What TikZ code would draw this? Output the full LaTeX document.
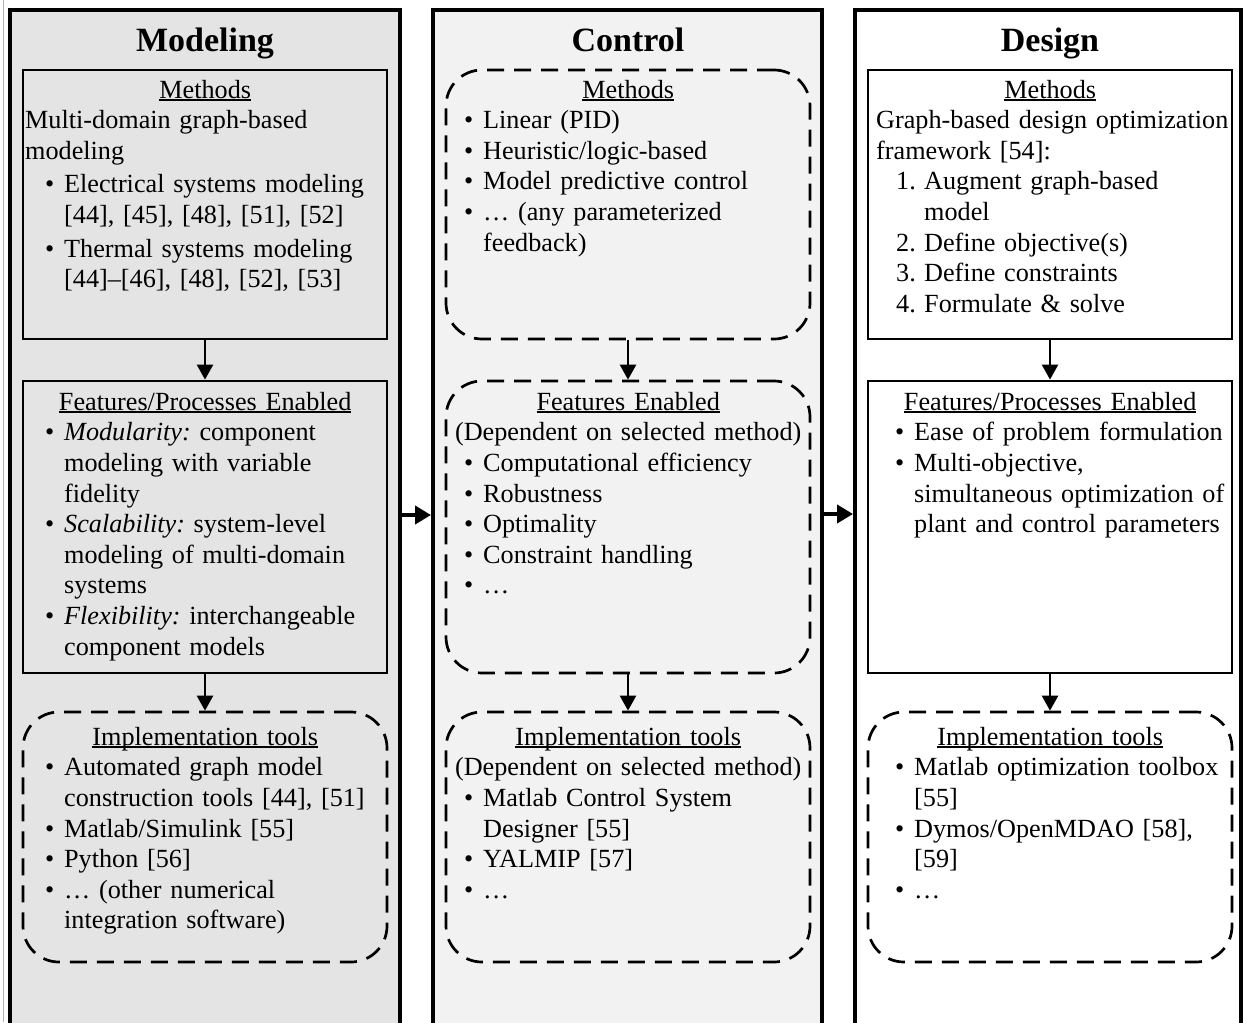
\documentclass[tikz,border=0pt]{standalone}
\usepackage{fontspec}
\setmainfont{Liberation Serif}
\usetikzlibrary{arrows.meta}
\definecolor{colL}{RGB}{228,228,228}
\definecolor{colM}{RGB}{242,242,242}
\frenchspacing
\newcommand\hdul[1]{\setbox0\hbox{#1}\rlap{\rule[-2.6pt]{\wd0}{1.4pt}}\box0}
\newcommand\hdline[2]{\noindent\makebox[#1]{\strut#2}\par}
\newcommand\bitem[2]{\par\leftskip=#1\relax\noindent\llap{\textbullet\hspace{10pt}}#2\par}
\newcommand\nitem[3]{\par\leftskip=#1\relax\noindent\llap{\makebox[28pt][l]{#2}}#3\par}
\tikzset{
  colbox/.style={draw=black, line width=4pt, anchor=north, inner sep=0, minimum height=1040pt},
  sbox/.style={draw=black, line width=2.8pt, inner sep=0, minimum width=364pt},
  dbox/.style={draw=black, line width=2.7pt, dash pattern=on 17pt off 10pt, rounded corners=36pt, inner sep=0, minimum width=364pt},
  txt/.style={anchor=north west, inner sep=0, text width=400pt, font=\fontsize{26.2}{30.6}\selectfont\frenchspacing},
  ttl/.style={anchor=base, inner sep=0, font=\fontsize{34}{40}\selectfont\bfseries},
  varrow/.style={-{Triangle[length=15pt,width=16pt]}, line width=2.5pt},
  harrow/.style={-{Triangle[length=16pt,width=18pt]}, line width=4.5pt}
}
\begin{document}
\begin{tikzpicture}[x=1pt,y=-1pt]
\useasboundingbox (0,0) rectangle (1244,1022);
\clip (0,0) rectangle (1244,1022);
\fill[white] (0,0) rectangle (1244,1022);
% columns
\draw[gray!60, line width=0.8pt] (3,0) -- (3,1022);
\node[colbox, fill=colL, minimum width=390pt] (colL) at (205,8) {};
\node[colbox, fill=colM, minimum width=389pt] (colM) at (627.5,8) {};
\node[colbox, fill=white, minimum width=386pt] (colD) at (1048,8) {};
% titles
\node[ttl] (tL) at (205,52) {Modeling};
\node[ttl] (tM) at (628,52) {Control};
\node[ttl] (tD) at (1050,52) {Design};
% boxes
\node[sbox, minimum height=269pt] (lm) at (205,204.5) {};
\node[sbox, minimum height=292pt] (lf) at (205,527) {};
\node[dbox, minimum height=250pt] (li) at (205,837) {};
\node[dbox, minimum height=269pt] (mm) at (628,204.5) {};
\node[dbox, minimum height=292pt] (mf) at (628,527) {};
\node[dbox, minimum height=250pt] (mi) at (628,837) {};
\node[sbox, minimum height=269pt] (dm) at (1050,204.5) {};
\node[sbox, minimum height=292pt] (df) at (1050,527) {};
\node[dbox, minimum height=250pt] (di) at (1050,837) {};
% texts - Modeling
\node[txt] (lmT) at (25,76.58) {\raggedright
\hdline{360pt}{\hdul{Methods}}
Multi-domain graph-based\newline modeling\par
\vskip3pt\bitem{39pt}{Electrical systems modeling\newline [44], [45], [48], [51], [52]}
\vskip3pt\bitem{39pt}{Thermal systems modeling\newline [44]–[46], [48], [52], [53]}};
\node[txt] (lfT) at (25,388.58) {\raggedright
\hdline{360pt}{\hdul{Features/Processes Enabled}}
\bitem{39pt}{\textit{Modularity:} component\newline modeling with variable\newline fidelity}
\bitem{39pt}{\textit{Scalability:} system-level\newline modeling of multi-domain\newline systems}
\bitem{39pt}{\textit{Flexibility:} interchangeable\newline component models}};
\node[txt] (liT) at (25,723.58) {\raggedright
\hdline{360pt}{\hdul{Implementation tools}}
\bitem{39pt}{Automated graph model\newline construction tools [44], [51]}
\bitem{39pt}{Matlab/Simulink [55]}
\bitem{39pt}{Python [56]}
\bitem{39pt}{… (other numerical\newline integration software)}};
% texts - Control
\node[txt] (mmT) at (448,76.58) {\raggedright
\hdline{360pt}{\hdul{Methods}}
\bitem{35pt}{Linear (PID)}
\bitem{35pt}{Heuristic/logic-based}
\bitem{35pt}{Model predictive control}
\bitem{35pt}{… (any parameterized\newline feedback)}};
\node[txt] (mfT) at (448,388.58) {\raggedright
\hdline{360pt}{\hdul{Features Enabled}}
\hdline{360pt}{(Dependent on selected method)}
\bitem{35pt}{Computational efficiency}
\bitem{35pt}{Robustness}
\bitem{35pt}{Optimality}
\bitem{35pt}{Constraint handling}
\bitem{35pt}{…}};
\node[txt] (miT) at (448,723.58) {\raggedright
\hdline{360pt}{\hdul{Implementation tools}}
\hdline{360pt}{(Dependent on selected method)}
\bitem{35pt}{Matlab Control System\newline Designer [55]}
\bitem{35pt}{YALMIP [57]}
\bitem{35pt}{…}};
% texts - Design
\node[txt] (dmT) at (876,76.58) {\raggedright
\hdline{348pt}{\hdul{Methods}}
Graph-based design optimization\newline framework [54]:\par
\nitem{48pt}{1.}{Augment graph-based\newline model}
\nitem{48pt}{2.}{Define objective(s)}
\nitem{48pt}{3.}{Define constraints}
\nitem{48pt}{4.}{Formulate \& solve}};
\node[txt] (dfT) at (876,388.58) {\raggedright
\hdline{348pt}{\hdul{Features/Processes Enabled}}
\bitem{38pt}{Ease of problem formulation}
\bitem{38pt}{Multi-objective,\newline simultaneous optimization of\newline plant and control parameters}};
\node[txt] (diT) at (876,723.58) {\raggedright
\hdline{348pt}{\hdul{Implementation tools}}
\bitem{38pt}{Matlab optimization toolbox\newline [55]}
\bitem{38pt}{Dymos/OpenMDAO [58],\newline [59]}
\bitem{38pt}{…}};
% vertical arrows
\draw[varrow] (lm.south) -- (lf.north);
\draw[varrow] (lf.south) -- (li.north);
\draw[varrow] (mm.south) -- (mf.north);
\draw[varrow] (mf.south) -- (mi.north);
\draw[varrow] (dm.south) -- (df.north);
\draw[varrow] (df.south) -- (di.north);
% horizontal arrows
\coordinate (h1) at (0,515);
\coordinate (h2) at (0,514);
\draw[harrow] (colL.east |- h1) -- (colM.west |- h1);
\draw[harrow] (colM.east |- h2) -- (colD.west |- h2);
\end{tikzpicture}
\end{document}
